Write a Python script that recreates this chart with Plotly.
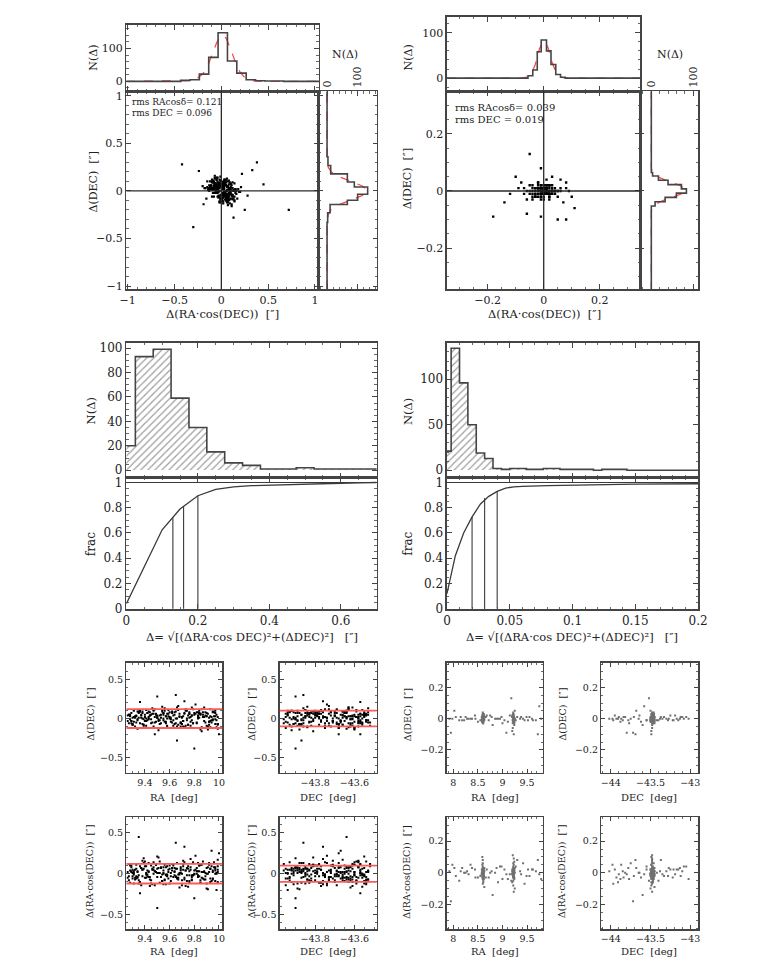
import plotly.graph_objects as go

# page is 764 x 974; the browser's default 8px body margin surrounds the plot
PAGE_W, PAGE_H = 764, 974
OFF = 8
W, H = PAGE_W - 2 * OFF, PAGE_H - 2 * OFF

# ---------------- catalogue 1 (left column) ----------------
ra1 = [9.31, 9.45, 9.62, 9.78, 9.93, 9.37, 9.55, 9.71, 9.86, 9.99,
       9.28, 9.42, 9.58, 9.74, 9.90, 9.34, 9.49, 9.66, 9.82, 9.96,
       9.30, 9.47, 9.60, 9.77, 9.88, 9.39, 9.53, 9.69, 9.84, 9.97,
       9.33, 9.44, 9.64, 9.79, 9.92, 9.36, 9.51, 9.68, 9.81, 9.95,
       9.29, 9.41, 9.57, 9.73, 9.89, 9.38, 9.56, 9.70, 9.85, 9.98,
       9.32, 9.46, 9.61, 9.76, 9.91, 9.35, 9.52, 9.67, 9.83, 9.35,
       9.27, 9.43, 9.59, 9.75, 9.87, 9.40, 9.54, 9.65, 9.80, 10.00,
       9.31, 9.48, 9.63, 9.72, 9.90, 9.36, 9.50, 9.66, 9.84, 9.97,
       9.29, 9.44, 9.58, 9.77, 9.93, 9.38, 9.55, 9.70, 9.86, 9.95,
       9.33, 9.47, 9.62, 9.74, 9.65, 9.41, 9.53, 9.68, 9.82, 9.99,
       9.30, 9.45, 9.60, 9.78, 9.92, 9.35, 9.51, 9.64, 9.81, 9.50,
       9.28, 9.42, 9.57, 9.73, 9.88, 9.39, 9.56, 9.71, 9.85, 9.98,
       9.34, 9.49, 9.61, 9.76, 9.91, 9.37, 9.52, 9.67, 9.83, 9.94,
       9.32, 9.46, 9.59, 9.75, 9.87, 9.40, 9.54, 9.69, 9.80, 9.97,
       9.27, 9.43, 9.63, 9.79, 9.93, 9.36, 9.50, 9.65, 9.84, 9.95,
       9.31, 9.48, 9.58, 9.72, 9.90, 9.38, 9.55, 9.66, 9.72, 9.99,
       9.26, 9.40, 9.53, 9.67, 9.80, 9.94, 9.33, 9.47, 9.61, 9.75,
       9.89, 9.29, 9.43, 9.57, 9.71, 9.85, 9.98, 9.36, 9.50, 9.64,
       9.78, 9.92, 9.31, 9.45, 9.59, 9.73, 9.87, 9.27, 9.41, 9.55,
       9.69, 9.83, 9.96, 9.34, 9.48, 9.62, 9.76, 9.90, 9.30, 9.44,
       9.58, 9.72, 9.86, 9.99, 9.37, 9.51, 9.65, 9.79, 9.93, 9.28,
       9.42, 9.56, 9.70, 9.84, 9.97, 9.35, 9.49, 9.63, 9.77, 9.91,
       9.32, 9.46, 9.60, 9.74, 9.88, 9.26, 9.39, 9.54, 9.68, 9.82,
       9.95, 9.38, 9.52, 9.66, 9.80, 9.94, 9.30, 9.43, 9.57, 9.71,
       9.85, 9.99, 9.34, 9.48, 9.62, 9.76, 9.89, 9.29, 9.41, 9.55,
       9.69, 9.83, 9.97, 9.36, 9.50, 9.64, 9.78, 9.92, 9.33, 9.47]
dec1 = [-43.91, -43.62, -43.78, -43.55, -43.84, -43.69, -43.94, -43.58, -43.73, -43.66,
        -43.87, -43.53, -43.75, -43.64, -43.89, -43.60, -43.81, -43.71, -43.56, -43.93,
        -43.68, -43.85, -43.59, -43.77, -43.63, -43.90, -43.54, -43.72, -43.82, -43.65,
        -43.95, -43.61, -43.79, -43.57, -43.86, -43.70, -43.92, -43.55, -43.74, -43.67,
        -43.88, -43.52, -43.76, -43.63, -43.83, -43.58, -43.80, -43.69, -43.60, -43.94,
        -43.66, -43.86, -43.57, -43.78, -43.62, -43.91, -43.54, -43.73, -43.84, -43.64,
        -43.96, -43.59, -43.77, -43.56, -43.87, -43.71, -43.93, -43.61, -43.75, -43.68,
        -43.89, -43.53, -43.79, -43.65, -43.82, -43.57, -43.85, -43.87, -43.55, -43.92,
        -43.67, -43.84, -43.60, -43.76, -43.63, -43.88, -43.56, -43.74, -43.81, -43.66,
        -43.94, -43.58, -43.80, -43.54, -43.86, -43.69, -43.90, -43.62, -43.72, -43.64,
        -43.87, -43.55, -43.78, -43.61, -43.83, -43.59, -43.81, -43.68, -43.57, -43.90,
        -43.65, -43.85, -43.58, -43.77, -43.64, -43.89, -43.53, -43.71, -43.83, -43.63,
        -43.93, -43.60, -43.76, -43.57, -43.88, -43.70, -43.91, -43.56, -43.74, -43.67,
        -43.86, -43.54, -43.79, -43.62, -43.82, -43.58, -43.84, -43.69, -43.90, -43.90,
        -43.66, -43.87, -43.61, -43.75, -43.65, -43.92, -43.55, -43.73, -43.80, -43.64,
        -43.95, -43.57, -43.78, -43.60, -43.85, -43.72, -43.89, -43.63, -43.76, -43.68,
        -43.74, -43.58, -43.90, -43.66, -43.83, -43.55, -43.71, -43.94, -43.62, -43.79,
        -43.53, -43.86, -43.68, -43.60, -43.92, -43.77, -43.57, -43.81, -43.64, -43.88,
        -43.70, -43.54, -43.85, -43.61, -43.95, -43.73, -43.59, -43.80, -43.67, -43.91,
        -43.56, -43.76, -43.63, -43.87, -43.69, -43.52, -43.82, -43.65, -43.93, -43.72,
        -43.58, -43.84, -43.60, -43.78, -43.55, -43.89, -43.66, -43.75, -43.62, -43.96,
        -43.70, -43.57, -43.83, -43.64, -43.91, -43.74, -43.53, -43.86, -43.68, -43.79,
        -43.61, -43.94, -43.72, -43.56, -43.81, -43.66, -43.88, -43.59, -43.76, -43.63,
        -43.90, -43.69, -43.54, -43.84, -43.60, -43.77, -43.93, -43.65, -43.82, -43.57,
        -43.73, -43.87, -43.62, -43.95, -43.68, -43.55, -43.80, -43.71, -43.64, -43.89,
        -43.58, -43.75, -43.92, -43.61, -43.85, -43.67, -43.54, -43.78, -43.70, -43.83]
dra1 = [0.03, -0.08, 0.12, -0.02, 0.06, -0.14, 0.01, 0.09, -0.05, 0.17,
        -0.11, 0.04, -0.01, 0.07, -0.18, 0.02, 0.11, -0.06, 0.00, 0.14,
        -0.03, 0.08, -0.12, 0.05, -0.07, 0.19, -0.04, 0.01, 0.10, -0.09,
        0.06, -0.15, 0.03, -0.02, 0.13, -0.10, 0.07, -0.01, 0.22, -0.06,
        0.02, 0.09, -0.13, 0.04, -0.03, 0.16, -0.08, 0.00, 0.11, -0.20,
        -0.05, 0.06, 0.01, -0.11, 0.08, -0.02, 0.15, -0.07, 0.03, 0.45,
        0.12, -0.04, 0.05, -0.16, 0.02, 0.09, -0.09, 0.06, -0.01, 0.25,
        -0.12, 0.03, 0.10, -0.05, 0.07, -0.24, 0.01, 0.13, -0.03, 0.04,
        0.08, -0.07, -0.02, 0.18, -0.10, 0.05, 0.00, -0.14, 0.11, 0.02,
        -0.06, 0.14, 0.04, -0.09, 0.38, -0.01, 0.07, -0.17, 0.03, 0.09,
        0.01, -0.12, 0.06, -0.04, 0.12, -0.08, 0.20, -0.02, 0.05, -0.42,
        0.10, -0.03, 0.08, -0.15, 0.02, 0.06, -0.07, 0.16, -0.11, 0.00,
        -0.04, 0.11, -0.09, 0.03, -0.19, 0.07, 0.01, -0.05, 0.13, 0.28,
        0.05, -0.13, 0.02, 0.09, -0.06, 0.15, -0.01, 0.04, -0.30, 0.08,
        -0.08, 0.03, 0.12, -0.02, 0.06, -0.10, 0.21, -0.04, 0.10, -0.07,
        0.01, 0.72, -0.03, 0.14, -0.12, 0.05, 0.08, -0.05, 0.33, 0.02,
        0.02, -0.05, 0.08, -0.01, 0.04, -0.09, 0.11, 0.00, -0.03, 0.06,
        -0.07, 0.03, 0.13, -0.02, 0.05, -0.11, 0.01, 0.09, -0.04, 0.07,
        -0.08, 0.02, -0.01, 0.10, -0.06, 0.04, 0.15, -0.03, 0.01, -0.13,
        0.06, -0.02, 0.08, -0.05, 0.03, 0.12, -0.09, 0.00, 0.05, -0.04,
        0.09, -0.07, 0.02, -0.10, 0.07, 0.01, -0.03, 0.14, -0.06, 0.04,
        -0.01, 0.11, -0.08, 0.03, 0.06, -0.12, 0.02, -0.04, 0.08, 0.00,
        -0.07, 0.05, 0.10, -0.02, 0.03, -0.05, 0.13, -0.09, 0.01, 0.07,
        0.04, -0.03, -0.11, 0.06, 0.00, 0.09, -0.06, 0.02, -0.01, 0.12,
        -0.08, 0.05, 0.03, -0.14, 0.07, -0.02, 0.01, 0.10, -0.05, 0.04,
        0.08, -0.04, 0.00, -0.10, 0.06, 0.02, -0.07, 0.11, -0.03, 0.05]
ddec1 = [0.02, -0.06, 0.09, 0.04, -0.11, 0.01, 0.07, -0.03, 0.12, -0.08,
         0.05, -0.02, -0.09, 0.10, 0.03, -0.13, 0.06, 0.00, -0.05, 0.08,
         -0.07, 0.11, 0.02, -0.04, 0.14, -0.01, 0.05, -0.10, 0.07, 0.03,
         -0.12, 0.04, 0.08, -0.06, 0.01, 0.09, -0.15, 0.06, 0.18, -0.02,
         0.07, -0.09, 0.03, 0.12, -0.05, 0.00, 0.10, -0.07, -0.14, 0.05,
         0.01, 0.13, -0.04, 0.06, -0.10, 0.08, -0.02, 0.16, 0.04, 0.07,
         -0.06, 0.02, 0.11, -0.08, 0.05, -0.03, 0.09, 0.00, -0.12, -0.20,
         0.10, -0.05, 0.04, 0.07, -0.09, 0.21, 0.03, -0.28, 0.06, -0.01,
         -0.03, 0.08, -0.11, 0.02, 0.12, -0.07, 0.05, 0.01, -0.16, 0.09,
         0.04, -0.10, 0.07, -0.02, 0.30, 0.11, -0.06, 0.03, 0.08, -0.13,
         -0.08, 0.05, 0.00, 0.14, -0.04, 0.09, -0.01, -0.12, 0.06, 0.28,
         0.03, 0.07, -0.06, 0.10, 0.02, -0.09, 0.13, -0.03, 0.05, -0.11,
         0.09, -0.04, 0.01, 0.06, -0.14, 0.04, -0.07, 0.11, 0.00, -0.05,
         -0.10, 0.06, 0.03, -0.08, 0.08, 0.02, 0.15, -0.05, -0.38, 0.07,
         0.05, -0.01, -0.09, 0.12, -0.03, 0.10, 0.04, -0.06, 0.01, 0.08,
         -0.04, -0.20, 0.06, -0.11, 0.03, 0.09, -0.02, 0.14, 0.22, -0.07,
         -0.03, 0.05, 0.01, -0.08, 0.07, 0.02, -0.05, 0.10, -0.01, 0.04,
         0.08, -0.06, 0.00, 0.03, -0.10, 0.06, -0.02, 0.09, 0.01, -0.07,
         0.04, -0.04, 0.11, -0.01, 0.06, -0.09, 0.02, 0.05, -0.03, 0.00,
         -0.06, 0.08, 0.03, -0.02, 0.12, -0.05, 0.01, 0.07, -0.08, 0.04,
         0.00, 0.06, -0.11, 0.02, 0.05, -0.03, 0.09, -0.06, 0.03, -0.01,
         0.07, -0.04, 0.02, 0.10, -0.07, 0.01, 0.05, -0.02, -0.09, 0.06,
         0.03, -0.05, 0.08, 0.00, -0.03, 0.04, -0.08, 0.11, 0.02, -0.06,
         -0.01, 0.07, 0.04, -0.10, 0.05, -0.02, 0.01, 0.09, -0.04, 0.03,
         0.06, -0.07, -0.01, 0.02, -0.12, 0.08, 0.04, -0.03, 0.00, 0.07,
         -0.05, 0.02, 0.10, -0.06, 0.01, 0.05, -0.02, -0.08, 0.03, 0.06]

# ---------------- catalogue 2 (right column) ----------------
ra2 = [8.60, 8.61, 8.59, 8.62, 8.60, 8.58, 8.61, 8.60, 8.63, 8.59,
       8.61, 8.60, 8.62, 8.59, 8.60, 8.61, 8.58, 8.62, 8.60, 8.61,
       8.59, 8.60, 8.62, 8.61, 8.60, 8.59, 8.63, 8.60, 8.61, 8.58,
       8.60, 8.62, 8.59, 8.61, 8.60, 8.60, 8.61, 8.59, 8.62, 8.60,
       8.61, 8.58, 8.60, 8.62, 8.59, 8.61, 8.60, 8.63, 8.60, 8.61,
       9.22, 9.23, 9.21, 9.24, 9.22, 9.20, 9.23, 9.22, 9.25, 9.21,
       9.23, 9.22, 9.24, 9.21, 9.22, 9.23, 9.20, 9.24, 9.22, 9.23,
       9.21, 9.22, 9.24, 9.23, 9.22, 9.21, 9.25, 9.22, 9.23, 9.20,
       9.22, 9.24, 9.21, 9.23, 9.22, 9.22, 9.23, 9.21, 9.24, 9.22,
       9.23, 9.20, 9.22, 9.24, 9.21, 9.23, 9.22, 9.25, 9.22, 9.23,
       7.92, 8.05, 8.18, 8.31, 8.44, 8.72, 8.85, 8.98, 9.11, 9.36,
       9.49, 9.62, 9.75, 7.98, 8.12, 8.25, 8.38, 8.50, 8.78, 8.91,
       9.04, 9.15, 9.42, 9.55, 9.68, 9.79, 8.02, 8.22, 8.45, 8.68,
       8.80, 8.95, 9.08, 9.30, 9.45, 9.60, 7.95, 8.15, 8.35, 8.55,
       8.75, 8.88, 9.00, 9.18, 9.38, 9.52, 9.72, 8.28, 8.66, 9.27]
dec2 = [-43.48, -43.47, -43.49, -43.46, -43.48, -43.50, -43.47, -43.48, -43.45, -43.49,
        -43.47, -43.48, -43.46, -43.49, -43.48, -43.47, -43.50, -43.46, -43.48, -43.47,
        -43.49, -43.48, -43.46, -43.47, -43.48, -43.49, -43.45, -43.48, -43.47, -43.50,
        -43.48, -43.46, -43.49, -43.47, -43.48, -43.48, -43.47, -43.49, -43.46, -43.48,
        -43.47, -43.50, -43.48, -43.46, -43.49, -43.47, -43.48, -43.45, -43.48, -43.47,
        -43.49, -43.48, -43.47, -43.50, -43.46, -43.48, -43.49, -43.47, -43.48, -43.45,
        -43.48, -43.47, -43.49, -43.46, -43.48, -43.50, -43.47, -43.48, -43.49, -43.46,
        -43.47, -43.49, -43.48, -43.45, -43.47, -43.48, -43.50, -43.46, -43.48, -43.49,
        -43.47, -43.48, -43.46, -43.49, -43.47, -43.48, -43.50, -43.48, -43.47, -43.46,
        -43.48, -43.49, -43.47, -43.48, -43.45, -43.48, -43.49, -43.47, -43.46, -43.48,
        -44.02, -43.12, -43.78, -43.35, -43.95, -43.22, -43.65, -43.05, -43.88, -43.30,
        -43.71, -43.15, -43.58, -43.98, -43.40, -43.82, -43.27, -43.62, -43.10, -43.91,
        -43.55, -43.19, -43.75, -43.33, -43.85, -43.02, -43.68, -43.42, -43.93, -43.25,
        -43.60, -43.08, -43.80, -43.37, -43.97, -43.17, -43.72, -43.45, -43.87, -43.28,
        -43.64, -43.13, -43.77, -43.52, -43.90, -43.21, -43.69, -43.38, -43.84, -43.55]
dra2 = [0.00, 0.01, -0.01, 0.02, -0.02, 0.00, 0.01, -0.01, 0.03, -0.03,
        0.00, 0.01, -0.01, 0.05, -0.04, 0.00, 0.02, -0.02, 0.08, -0.06,
        0.01, -0.01, 0.00, 0.02, -0.02, 0.10, -0.09, 0.01, 0.00, -0.01,
        0.03, -0.03, 0.00, 0.01, -0.01, 0.06, -0.05, 0.02, -0.02, 0.00,
        0.01, -0.01, 0.04, -0.04, 0.00, 0.02, -0.07, 0.01, 0.00, -0.01,
        0.01, -0.01, 0.00, 0.02, -0.02, 0.01, 0.00, -0.03, 0.03, -0.01,
        0.00, 0.04, -0.04, 0.01, 0.00, -0.02, 0.02, 0.07, -0.08, 0.00,
        -0.01, 0.01, 0.00, -0.02, 0.02, 0.11, -0.10, 0.00, 0.01, -0.01,
        0.03, -0.03, 0.00, 0.05, -0.05, 0.01, -0.01, 0.00, 0.02, -0.02,
        0.09, -0.06, 0.00, 0.01, -0.01, 0.03, -0.03, 0.00, 0.06, -0.12,
        0.01, -0.02, 0.03, -0.01, 0.02, -0.03, 0.00, 0.04, -0.04, 0.01,
        -0.02, 0.02, -0.01, 0.05, -0.05, 0.00, 0.03, -0.03, 0.01, -0.06,
        0.02, -0.01, 0.06, -0.02, 0.01, -0.04, 0.03, 0.00, -0.03, 0.02,
        -0.14, 0.04, -0.01, 0.08, -0.07, 0.02, -0.18, 0.01, 0.05, -0.02,
        0.00, 0.03, -0.04, -0.05, -0.01, 0.02, 0.08, 0.01, -0.03, 0.04]
ddec2 = [0.00, 0.01, -0.01, 0.00, 0.01, -0.01, 0.02, -0.02, 0.00, 0.01,
         -0.01, 0.00, 0.02, -0.02, 0.01, 0.00, -0.01, 0.01, 0.03, -0.03,
         0.00, 0.01, -0.01, 0.00, 0.02, -0.02, 0.01, 0.04, -0.01, 0.00,
         0.01, -0.01, 0.02, 0.00, -0.02, 0.01, 0.00, -0.01, 0.03, -0.03,
         0.00, 0.01, -0.01, 0.02, 0.00, -0.02, 0.01, -0.01, 0.00, 0.01,
         -0.01, 0.00, 0.01, -0.02, 0.00, 0.02, -0.01, 0.01, 0.00, -0.03,
         0.01, 0.00, -0.01, 0.02, -0.02, 0.00, 0.01, -0.04, 0.03, 0.00,
         -0.01, 0.01, 0.00, -0.02, 0.02, -0.06, 0.05, 0.00, -0.01, 0.01,
         0.00, -0.02, 0.01, -0.10, 0.02, 0.00, -0.01, 0.01, -0.03, 0.03,
         0.00, -0.08, 0.01, 0.00, -0.01, 0.02, -0.02, 0.00, 0.04, -0.01,
         0.00, 0.01, -0.01, 0.00, 0.02, -0.01, 0.00, 0.01, -0.02, 0.00,
         0.01, -0.01, 0.08, 0.00, -0.01, 0.01, 0.00, -0.02, 0.01, 0.00,
         -0.01, 0.02, 0.00, 0.01, -0.01, 0.00, 0.05, -0.01, 0.00, 0.02,
         -0.04, 0.00, -0.09, 0.01, -0.01, 0.00, -0.09, 0.01, 0.00, -0.01,
         0.02, 0.00, -0.03, 0.13, 0.01, -0.01, -0.10, 0.00, 0.01, -0.01]

# ---------------- marginal histograms ----------------
h1ra_edges = [-1.035, -0.435, -0.335, -0.235, -0.135, -0.035, 0.065, 0.165, 0.265, 0.365, 0.465, 0.565, 0.665, 1.065]
h1ra_counts = [0, 3, 5, 22, 73, 148, 62, 25, 5, 2, 1, 1, 0]
fit1ra_x = [-1.02, -0.45, -0.35, -0.3, -0.25, -0.2, -0.15, -0.1, -0.05, 0.0, 0.05, 0.1, 0.15, 0.2, 0.25, 0.3, 0.35, 0.45, 1.05]
fit1ra_y = [0, 0, 2, 5, 11, 22, 45, 80, 118, 140, 132, 98, 58, 28, 11, 4, 1.5, 0, 0]
h1dec_edges = [-1.035, -0.33, -0.23, -0.142, -0.097, -0.035, 0.042, 0.094, 0.18, 0.267, 0.36, 1.05]
h1dec_counts = [0, 2, 10, 67, 101, 134, 90, 67, 12, 3, 0]
fit1dec_y = [-1.035, -0.35, -0.25, -0.2, -0.15, -0.1, -0.05, 0.0, 0.05, 0.1, 0.15, 0.2, 0.25, 0.35, 1.05]
fit1dec_n = [0, 0, 4, 12, 35, 75, 115, 135, 118, 80, 40, 14, 4, 0, 0]

h2ra_edges = [-0.345, -0.056, -0.039, -0.023, -0.009, 0.010, 0.026, 0.043, 0.060, 0.077, 0.345]
h2ra_counts = [0, 5, 18, 58, 84, 60, 30, 8, 2, 0]
fit2ra_x = [-0.345, -0.08, -0.06, -0.045, -0.03, -0.015, 0.0, 0.015, 0.03, 0.045, 0.06, 0.08, 0.345]
fit2ra_y = [0, 0, 2, 8, 30, 65, 83, 68, 35, 10, 2, 0, 0]
h2dec_edges = [-0.35, -0.0525, -0.0375, -0.0225, -0.0075, 0.0075, 0.0225, 0.0375, 0.0525, 0.065, 0.35]
h2dec_counts = [0, 9, 33, 60, 84, 72, 40, 17, 3, 0]
fit2dec_y = [-0.35, -0.07, -0.05, -0.035, -0.02, -0.005, 0.005, 0.02, 0.035, 0.05, 0.065, 0.08, 0.35]
fit2dec_n = [0, 0, 6, 25, 55, 80, 82, 68, 40, 14, 3, 0, 0]

# ---------------- total offset histograms and cumulative fractions ----------------
d1_centers = [0.0, 0.05, 0.1, 0.15, 0.2, 0.25, 0.3, 0.35, 0.4, 0.45, 0.5, 0.55, 0.6, 0.65, 0.7]
d1_counts = [20, 93, 99, 59, 35, 15, 6, 4, 1, 1, 2, 1, 1, 1, 1]
d1_width = 0.05
frac1_x = [0.0, 0.05, 0.1, 0.15, 0.2, 0.25, 0.3, 0.35, 0.4, 0.45, 0.5, 0.55, 0.6, 0.65, 0.7]
frac1_y = [0.04, 0.33, 0.625, 0.79, 0.895, 0.945, 0.965, 0.975, 0.98, 0.983, 0.988, 0.991, 0.994, 0.997, 1.0]
pct1_x = [0.13, 0.16, 0.20]
pct1_y = [0.72, 0.81, 0.895]

d2_width = 1 / 150
d2_counts = [21, 134, 96, 50, 19, 13, 2, 1, 2, 2, 1, 1, 2, 2, 1, 1, 1, 1, 0, 1, 1, 1, 0, 0, 0, 0, 0, 0, 0, 0, 0]
frac2_x = [0.0, 0.0067, 0.0133, 0.02, 0.0267, 0.0333, 0.04, 0.0467, 0.0533, 0.06, 0.08, 0.1, 0.12, 0.15, 0.2]
frac2_y = [0.12, 0.42, 0.60, 0.727, 0.83, 0.89, 0.93, 0.955, 0.966, 0.97, 0.975, 0.98, 0.982, 0.987, 0.99]
pct2_x = [0.02, 0.03, 0.04]
pct2_y = [0.727, 0.878, 0.93]

# rms bands drawn in red in the lower-left panels
band_ra1 = [0.12, -0.12]
band_dec1 = [0.10, -0.10]

rms_text1 = ["rms RAcosδ= 0.121", "rms DEC = 0.096"]
rms_text2 = ["rms RAcosδ= 0.039", "rms DEC = 0.019"]

# ---------------- layout helpers ----------------
FONT = "DejaVu Serif"
LINE = "#444444"
TXT = "#222222"

# panel boxes in page pixels: (left, right, top, bottom)
panels = {
    1: (122, 319, 23, 90), 2: (122, 319, 90, 290), 3: (319, 378, 90, 290),
    4: (450, 648, 15, 90), 5: (450, 648, 90, 290), 6: (648, 707, 90, 290),
    7: (122, 378, 344, 480), 8: (122, 378, 480, 613),
    9: (450, 707, 344, 480), 10: (450, 707, 480, 613),
    11: (122, 220, 667, 778), 12: (279, 378, 667, 778), 13: (450, 548, 667, 778), 14: (608, 707, 667, 778),
    15: (122, 220, 823, 936), 16: (279, 378, 823, 936), 17: (450, 548, 823, 936), 18: (608, 707, 823, 936),
}


def fx(px):
    return (px - OFF) / W


def fy(py):
    return 1 - (py - OFF) / H


def axis(rng, dtick, mdtick, labels, fsize, tick0=0.0, tl=5, **kw):
    d = dict(range=rng, dtick=dtick, tick0=tick0, showticklabels=labels,
             showline=True, linecolor=LINE, linewidth=1.5, mirror="allticks",
             ticks="inside", ticklen=tl, tickwidth=1, tickcolor=LINE,
             showgrid=False, zeroline=False, fixedrange=True,
             tickfont=dict(family=FONT, size=fsize, color=TXT),
             minor=dict(ticks="inside", ticklen=tl / 2, tickwidth=0.8, tickcolor=LINE,
                        dtick=mdtick, tick0=tick0, showgrid=False))
    d.update(kw)
    return d


rA = [-1.014, 1.042]
rAy = [-1.035, 1.049]
rB = [-0.345, 0.345]
rBy = [-0.345, 0.35]
specs = {
    1: (axis(rA, 0.5, 0.1, False, 11), axis([-30, 172], 100, 20, True, 11)),
    2: (axis(rA, 0.5, 0.1, True, 11), axis(rAy, 0.5, 0.1, True, 11)),
    3: (axis([-26.8, 163.5], 100, 20, True, 11, side="top", tickangle=-90),
        axis(rAy, 0.5, 0.1, False, 11, tl=4)),
    4: (axis(rB, 0.2, 0.05, False, 11), axis([-29, 135], 100, 20, True, 11)),
    5: (axis(rB, 0.2, 0.05, True, 11), axis(rBy, 0.2, 0.05, True, 11)),
    6: (axis([-26, 112], 100, 20, True, 11, side="top", tickangle=-90),
        axis(rBy, 0.2, 0.05, False, 11, tl=4)),
    7: (axis([0, 0.7], 0.2, 0.05, False, 12), axis([-6, 104.3], 20, 5, True, 12)),
    8: (axis([0, 0.7], 0.2, 0.05, True, 12), axis([-0.005, 1.039], 0.2, 0.05, True, 12)),
    9: (axis([0, 0.2], 0.05, 0.01, False, 12), axis([-8, 140], 50, 10, True, 12)),
    10: (axis([0, 0.2], 0.05, 0.01, True, 12), axis([-0.005, 1.039], 0.2, 0.05, True, 12)),
    11: (axis([9.25, 10.026], 0.2, 0.05, True, 9.5, tick0=9.4, tl=4), axis([-0.69, 0.71], 0.5, 0.1, True, 9.5, tl=4)),
    12: (axis([-43.98, -43.487], 0.2, 0.05, True, 9.5, tick0=-43.8, tl=4), axis([-0.69, 0.71], 0.5, 0.1, True, 9.5, tl=4)),
    13: (axis([7.87, 9.82], 0.5, 0.1, True, 9.5, tl=4), axis([-0.347, 0.358], 0.2, 0.05, True, 9.5, tl=4)),
    14: (axis([-44.12, -42.9], 0.5, 0.1, True, 9.5, tl=4), axis([-0.347, 0.358], 0.2, 0.05, True, 9.5, tl=4)),
    15: (axis([9.25, 10.026], 0.2, 0.05, True, 9.5, tick0=9.4, tl=4), axis([-0.68, 0.69], 0.5, 0.1, True, 9.5, tl=4)),
    16: (axis([-43.98, -43.487], 0.2, 0.05, True, 9.5, tick0=-43.8, tl=4), axis([-0.68, 0.69], 0.5, 0.1, True, 9.5, tl=4)),
    17: (axis([7.87, 9.82], 0.5, 0.1, True, 9.5, tl=4), axis([-0.357, 0.35], 0.2, 0.05, True, 9.5, tl=4)),
    18: (axis([-44.12, -42.9], 0.5, 0.1, True, 9.5, tl=4), axis([-0.357, 0.35], 0.2, 0.05, True, 9.5, tl=4)),
}

layout = dict(width=W, height=H, margin=dict(l=0, r=0, t=0, b=0), autosize=False,
              paper_bgcolor="white", plot_bgcolor="white", showlegend=False,
              font=dict(family=FONT, color=TXT))
for n, (x0, x1, y0, y1) in panels.items():
    xa, ya = specs[n]
    sfx = "" if n == 1 else str(n)
    xa["domain"] = [max(0.0, fx(x0)), min(1.0, fx(x1))]
    ya["domain"] = [max(0.0, fy(y1)), min(1.0, fy(y0))]
    xa["anchor"] = "y" + sfx
    ya["anchor"] = "x" + sfx
    layout["xaxis" + sfx] = xa
    layout["yaxis" + sfx] = ya

fig = go.Figure(layout=layout)


def ax_ids(n):
    s = "" if n == 1 else str(n)
    return "x" + s, "y" + s


def add(n, **kw):
    xa, ya = ax_ids(n)
    fig.add_trace(go.Scatter(xaxis=xa, yaxis=ya, hoverinfo="skip", **kw))


HIST = dict(color="#454545", width=1.6)
FIT = dict(color="rgb(255,70,70)", width=1.3, dash="dash")
RED = "rgb(255,90,90)"


def hstep_h(n, edges, counts):
    add(n, x=edges, y=counts + [counts[-1]], mode="lines", line=dict(shape="hv", **HIST))


def hstep_v(n, edges, counts):
    add(n, x=counts + [counts[-1]], y=edges, mode="lines", line=dict(shape="vh", **HIST))


# ---- top-left block ----
add(1, x=fit1ra_x, y=fit1ra_y, mode="lines", line=FIT)
hstep_h(1, h1ra_edges, h1ra_counts)
add(3, x=fit1dec_n, y=fit1dec_y, mode="lines", line=FIT)
hstep_v(3, h1dec_edges, h1dec_counts)
add(2, x=dra1, y=ddec1, mode="markers", marker=dict(color="black", size=2.2, symbol="square"))

# ---- top-right block ----
add(4, x=fit2ra_x, y=fit2ra_y, mode="lines", line=FIT)
hstep_h(4, h2ra_edges, h2ra_counts)
add(6, x=fit2dec_n, y=fit2dec_y, mode="lines", line=FIT)
hstep_v(6, h2dec_edges, h2dec_counts)
add(5, x=dra2, y=ddec2, mode="markers", marker=dict(color="black", size=2.4, symbol="square"))

# ---- hatched histograms ----
PATTERN = dict(shape="/", fgcolor="#404040", bgcolor="white", size=5, solidity=0.25)
for n, centers, counts, w in ((7, d1_centers, d1_counts, d1_width),
                              (9, [i * d2_width for i in range(len(d2_counts))], d2_counts, d2_width)):
    xa, ya = ax_ids(n)
    fig.add_trace(go.Bar(x=centers, y=counts, width=w, xaxis=xa, yaxis=ya,
                         marker=dict(color="white", line=dict(width=0), pattern=PATTERN),
                         hoverinfo="skip"))
    edges = [0.0] + [c + w / 2 for c in centers]
    hstep_h(n, edges, counts)

# ---- cumulative fractions ----
for n, cx, cy, px, py in ((8, frac1_x, frac1_y, pct1_x, pct1_y),
                          (10, frac2_x, frac2_y, pct2_x, pct2_y)):
    add(n, x=cx, y=cy, mode="lines", line=dict(color="#3a3a3a", width=1.3))
    for vx, vy in zip(px, py):
        add(n, x=[vx, vx], y=[0, vy], mode="lines", line=dict(color="#3a3a3a", width=1.1))

# ---- position-dependent residuals ----
P1 = dict(color="black", size=2.0, symbol="square")
P2 = dict(color="#707070", size=2.0, symbol="square")
add(11, x=ra1, y=ddec1, mode="markers", marker=P1)
add(12, x=dec1, y=ddec1, mode="markers", marker=P1)
add(15, x=ra1, y=dra1, mode="markers", marker=P1)
add(16, x=dec1, y=dra1, mode="markers", marker=P1)
add(13, x=ra2, y=ddec2, mode="markers", marker=P2)
add(14, x=dec2, y=ddec2, mode="markers", marker=P2)
add(17, x=ra2, y=dra2, mode="markers", marker=P2)
add(18, x=dec2, y=dra2, mode="markers", marker=P2)

shapes = []
for n in (2, 5):
    xa, ya = ax_ids(n)
    shapes.append(dict(type="line", xref=xa, yref=ya + " domain", x0=0, x1=0, y0=0, y1=1,
                       line=dict(color="#2a2a2a", width=1.3)))
    shapes.append(dict(type="line", xref=xa + " domain", yref=ya, x0=0, x1=1, y0=0, y1=0,
                       line=dict(color="#2a2a2a", width=1.3)))
for n in (8, 10):
    xa, ya = ax_ids(n)
    shapes.append(dict(type="line", xref=xa + " domain", yref=ya, x0=0, x1=1, y0=1, y1=1,
                       line=dict(color="#3a3a3a", width=1.1)))
for n, band in ((11, band_ra1), (15, band_ra1), (12, band_dec1), (16, band_dec1)):
    xa, ya = ax_ids(n)
    for b in band:
        shapes.append(dict(type="line", xref=xa + " domain", yref=ya, x0=0, x1=1, y0=b, y1=b,
                           line=dict(color=RED, width=1.8)))
fig.update_layout(shapes=shapes)

# ---- text ----
ann = []


def text(x, y, s, size, angle=0, xanchor="center"):
    ann.append(dict(x=fx(x), y=fy(y), xref="paper", yref="paper", text=s, showarrow=False,
                    textangle=angle, xanchor=xanchor, yanchor="middle",
                    font=dict(family=FONT, size=size, color=TXT)))


NDelta = "N(Δ)"
DDEC = "Δ(DEC)  [″]"
DRA = "Δ(RA·cos(DEC))  [″]"
DTOT = "Δ= √[(ΔRA·cos DEC)²+(ΔDEC)²]   [″]"

text(88, 56, NDelta, 11, -90)
text(88, 182, DDEC, 11, -90)
text(220, 315, DRA, 11.5)
text(346, 53, NDelta, 11)
text(126, 101, rms_text1[0], 9, xanchor="left")
text(126, 112, rms_text1[1], 9, xanchor="left")

text(411, 56, NDelta, 11, -90)
text(410, 178, DDEC, 11, -90)
text(550, 315, DRA, 11.5)
text(678, 53, NDelta, 11)
text(456, 106, rms_text2[0], 10, xanchor="left")
text(456, 119, rms_text2[1], 10, xanchor="left")

text(86, 413, NDelta, 11.5, -90)
text(86, 547, "frac", 12, -90)
text(250, 641, DTOT, 11.5)
text(410, 413, NDelta, 11.5, -90)
text(410, 547, "frac", 12, -90)
text(578, 641, DTOT, 11.5)

for xpos in (85, 250, 409, 568):
    text(xpos, 719, DDEC, 9.5, -90)
    text(xpos, 878, DRA, 9.5, -90)
for xc, lab in ((171, "RA  [deg]"), (328, "DEC  [deg]"), (499, "RA  [deg]"), (657, "DEC  [deg]")):
    text(xc, 803, lab, 10)
    text(xc, 958, lab, 10)

fig.update_layout(annotations=ann, bargap=0)

fig.write_html("out.html", config={"displayModeBar": False, "staticPlot": True})
